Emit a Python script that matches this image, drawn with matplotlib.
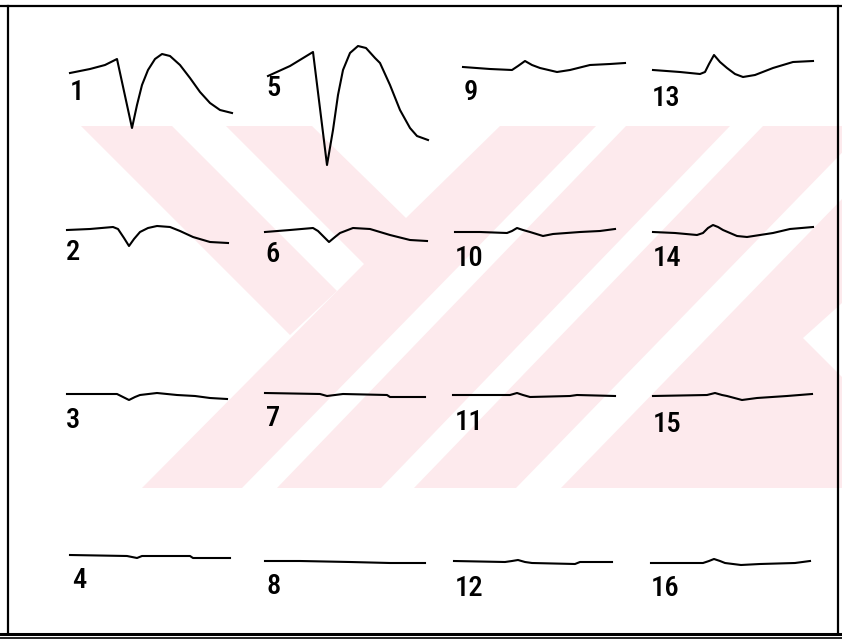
import os
import matplotlib
matplotlib.use("Agg")
import matplotlib.pyplot as plt
from matplotlib.patches import Polygon
from matplotlib import font_manager

# ---------------- data: 16 recorded waveforms (time, amplitude) ----------------
t01 = [0, 20, 35, 47, 62, 67, 72, 78, 85, 92, 100, 110, 120, 130, 140, 150, 162]
a01 = [0, 4, 8, 14, -55, -32, -12, 3, 14, 19, 17, 8, -5, -19, -30, -37, -40]
t02 = [0, 23, 46, 51, 57, 62, 67, 73, 81, 90, 103, 113, 126, 143, 161]
a02 = [0, 1, 3, 1, -8, -16, -9, -2, 2, 4, 3, -1, -7, -12, -13]
t03 = [0, 50, 56, 62, 68, 73, 90, 110, 128, 143, 160]
a03 = [0, 0, -3, -6, -3, -1, 1, -1, -2, -4, -5]
t04 = [0, 57, 67, 72, 120, 123, 160]
a04 = [0, -1, -3, -1, -1, -3, -3]
t05 = [0, 22, 45, 59, 65, 70, 75, 82, 90, 98, 107, 112, 122, 132, 142, 149, 160]
a05 = [0, 10, 24, -89, -54, -19, 6, 23, 30, 28, 18, 13, -9, -34, -52, -60, -64]
t06 = [0, 25, 48, 53, 59, 64, 70, 75, 88, 105, 125, 145, 162]
a06 = [0, 2, 4, 1, -5, -10, -5, -1, 4, 3, -3, -8, -9]
t07 = [0, 55, 62, 78, 122, 125, 160]
a07 = [0, -1, -3, -1, -2, -4, -4]
t08 = [0, 35, 85, 125, 160]
a08 = [0, 0, -1, -2, -2]
t09 = [0, 27, 49, 55, 62, 69, 77, 94, 107, 127, 147, 162]
a09 = [0, -2, -3, 1, 6, 2, -1, -5, -3, 2, 3, 4]
t10 = [0, 25, 52, 57, 62, 68, 75, 88, 98, 125, 145, 160]
a10 = [0, 0, -1, 1, 4, 2, 0, -4, -2, 0, 1, 3]
t11 = [0, 57, 64, 70, 77, 117, 124, 162]
a11 = [0, 0, 2, 0, -2, -1, 0, -1]
t12 = [0, 51, 58, 64, 71, 78, 121, 126, 158]
a12 = [0, -1, 0, 1, -1, -2, -3, -1, -1]
t13 = [0, 27, 47, 52, 56, 61, 67, 74, 82, 90, 102, 120, 140, 160]
a13 = [0, -2, -4, -2, 6, 15, 8, 2, -4, -7, -5, 2, 8, 9]
t14 = [0, 22, 44, 50, 55, 60, 65, 70, 84, 94, 120, 137, 160]
a14 = [0, -1, -3, -1, 4, 7, 5, 2, -4, -5, -1, 3, 5]
t15 = [0, 54, 62, 69, 74, 89, 104, 134, 159]
a15 = [0, 1, 3, 1, 0, -4, -2, 0, 2]
t16 = [0, 52, 58, 63, 69, 74, 90, 109, 144, 159]
a16 = [0, 0, 2, 4, 2, 0, -2, -1, 0, 2]

labels = ["1", "2", "3", "4", "5", "6", "7", "8",
          "9", "10", "11", "12", "13", "14", "15", "16"]

times = [t01, t02, t03, t04, t05, t06, t07, t08,
         t09, t10, t11, t12, t13, t14, t15, t16]
amps = [a01, a02, a03, a04, a05, a06, a07, a08,
        a09, a10, a11, a12, a13, a14, a15, a16]

# ---------------- layout (pixels) ----------------
W, H = 842, 640
anchors = [(70, 73), (67, 230), (67, 394), (70, 555),
           (268, 76), (265, 232), (265, 393), (265, 561),
           (463, 67), (455, 232), (453, 395), (454, 561),
           (653, 70), (653, 232), (653, 396), (651, 563)]
label_pos = [(70, 92), (66, 253), (66, 420), (72, 581),
             (266, 89), (265, 255), (266, 418), (266, 587),
             (464, 92), (455, 258), (455, 422), (455, 588),
             (652, 98), (653, 259), (653, 424), (651, 589)]

PINK = "#fdeaed"


def pick_font():
    cands = []
    for f in font_manager.fontManager.ttflist:
        base = os.path.basename(f.fname).lower()
        if ("condensed" in base or "narrow" in base) and "italic" not in base \
                and "oblique" not in base:
            cands.append((base, f.fname))
    prefs = ["notosans-condensedmedium.", "notosans-condensed.",
             "liberationsansnarrow-regular", "robotocondensed-medium",
             "robotocondensed-regular", "notosans-semicondensed.",
             "opensans_condensed-regular", "dejavusanscondensed."]
    for p in prefs:
        for base, path in cands:
            if base.startswith(p):
                return font_manager.FontProperties(fname=path, size=20.5)
    for base, path in cands:
        if all(k not in base for k in ("bold", "light", "thin", "black")):
            return font_manager.FontProperties(fname=path, size=20.5)
    return font_manager.FontProperties(family="DejaVu Sans", size=17)


FP = pick_font()

fig = plt.figure(figsize=(W / 100, H / 100), dpi=100)
fig.patch.set_facecolor("white")
bg = fig.add_axes([0, 0, 1, 1])
bg.set_xlim(0, W)
bg.set_ylim(H, 0)
bg.axis("off")

# ---------------- watermark (decoration) ----------------
pink_polys = [
    [(81, 126), (172, 126), (337, 291), (290, 335)],
    [(226, 126), (842, 126), (842, 488), (142, 488), (364, 264)],
]
white_polys = [
    [(312, 126), (500, 126), (406, 218)],
    [(242, 488), (277, 488), (626, 126), (596, 126)],
    [(381, 488), (414, 488), (763, 126), (730, 126)],
    [(516, 488), (561, 488), (913, 126), (868, 126)],
    [(842, 303), (803, 338), (842, 377)],
]
for p in pink_polys:
    bg.add_patch(Polygon(p, closed=True, facecolor=PINK, edgecolor="none", zorder=0))
for p in white_polys:
    bg.add_patch(Polygon(p, closed=True, facecolor="white", edgecolor="none", zorder=1))

# ---------------- frame ----------------
bg.plot([8, 8], [6, 634], color="black", lw=1.6, zorder=3)
bg.plot([838, 838], [6, 634], color="black", lw=1.6, zorder=3)
bg.plot([0, W], [6, 6], color="black", lw=1.6, zorder=3)
bg.plot([0, W], [634, 634], color="black", lw=2.2, zorder=3)
bg.plot([0, W], [638, 638], color="black", lw=1.2, zorder=3)

# ---------------- traces ----------------
for i in range(16):
    x0, y0 = anchors[i]
    ax = fig.add_axes([(x0 - 10) / W, 1 - (y0 + 110) / H, 190 / W, 160 / H])
    ax.set_xlim(-10, 180)
    ax.set_ylim(-110, 50)
    ax.axis("off")
    ax.patch.set_alpha(0)
    ax.plot(times[i], amps[i], color="black", lw=1.5, solid_joinstyle="round")
    lx, ly = label_pos[i]
    bg.text(lx, ly, labels[i], fontproperties=FP, color="black",
            ha="left", va="center", zorder=4)

fig.savefig("out.png", dpi=100, facecolor="white")
